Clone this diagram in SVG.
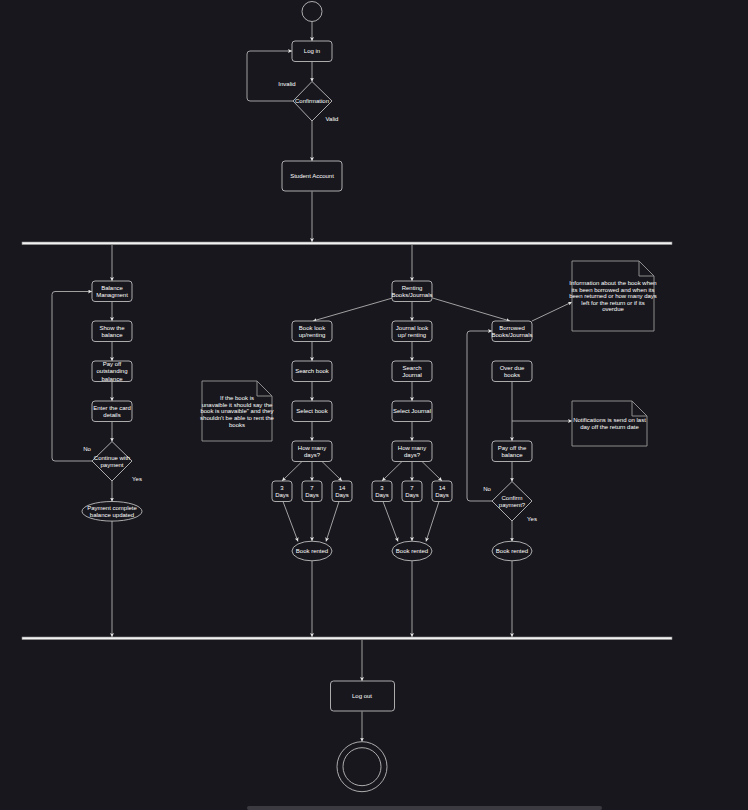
<svg xmlns="http://www.w3.org/2000/svg" width="748" height="810" viewBox="0 0 748 810">
<defs>
<marker id="arr" viewBox="0 0 8 8" refX="8" refY="4" markerWidth="4" markerHeight="4" markerUnits="userSpaceOnUse" orient="auto">
<path d="M0,0 L8,4 L0,8 L2,4 z" fill="#e8e8e8"/>
</marker>
<style>
.n{fill:#18171d;stroke:#bdbdbd;stroke-width:0.9}
.note{fill:#18171d;stroke:#8c8c8c;stroke-width:1}
.a{fill:none;stroke:#b0b0b0;stroke-width:0.9;marker-end:url(#arr)}
text{font-family:"Liberation Sans",Arial,Helvetica,sans-serif;font-size:6px;fill:#ffffff;text-anchor:middle}
.bar{fill:#f2f2f2;stroke:#8a8a8a;stroke-width:0.6}
</style>
</defs>
<rect x="0" y="0" width="748" height="810" fill="#18171d"/>
<rect x="247" y="806" width="355" height="4" rx="2" fill="#3b3a40"/>

<g id="connectors">
<line class="a" x1="312" y1="21.5" x2="312" y2="41"/>
<line class="a" x1="312" y1="61.5" x2="312" y2="81.5"/>
<path class="a" d="M293,101 H250 Q247,101 247,98 V54 Q247,51 250,51 H292"/>
<line class="a" x1="312" y1="121" x2="312" y2="161"/>
<line class="a" x1="312" y1="191.5" x2="312" y2="242"/>
<line class="a" x1="112" y1="245" x2="112" y2="281"/>
<line class="a" x1="412" y1="245" x2="412" y2="281"/>
<line class="a" x1="112" y1="301.5" x2="112" y2="321"/>
<line class="a" x1="112" y1="341.5" x2="112" y2="361"/>
<line class="a" x1="112" y1="381.5" x2="112" y2="401"/>
<line class="a" x1="112" y1="421.5" x2="112" y2="441.5"/>
<path class="a" d="M92,461 H55 Q52,461 52,458 V294.5 Q52,291.5 55,291.5 H92"/>
<line class="a" x1="112" y1="481" x2="112" y2="501.5"/>
<line class="a" x1="112" y1="521" x2="112" y2="637"/>
<line class="a" x1="392.5" y1="298" x2="313" y2="321"/>
<line class="a" x1="412" y1="301.5" x2="412" y2="321"/>
<line class="a" x1="432.5" y1="298" x2="510" y2="321"/>
<line class="a" x1="312" y1="341.5" x2="312" y2="361"/>
<line class="a" x1="312" y1="381.5" x2="312" y2="401"/>
<line class="a" x1="312" y1="421.5" x2="312" y2="441"/>
<line class="a" x1="412" y1="341.5" x2="412" y2="361"/>
<line class="a" x1="412" y1="381.5" x2="412" y2="401"/>
<line class="a" x1="412" y1="421.5" x2="412" y2="441"/>
<line class="a" x1="302" y1="461.5" x2="282" y2="481"/>
<line class="a" x1="312" y1="461.5" x2="312" y2="481"/>
<line class="a" x1="322" y1="461.5" x2="342" y2="481"/>
<line class="a" x1="402" y1="461.5" x2="382" y2="481"/>
<line class="a" x1="412" y1="461.5" x2="412" y2="481"/>
<line class="a" x1="422" y1="461.5" x2="442" y2="481"/>
<line class="a" x1="283" y1="501.5" x2="298" y2="541.5"/>
<line class="a" x1="312" y1="501.5" x2="312" y2="541"/>
<line class="a" x1="339" y1="501.5" x2="326" y2="541.5"/>
<line class="a" x1="383" y1="501.5" x2="398" y2="541.5"/>
<line class="a" x1="412" y1="501.5" x2="412" y2="541"/>
<line class="a" x1="439" y1="501.5" x2="426" y2="541.5"/>
<line class="a" x1="312" y1="561" x2="312" y2="637"/>
<line class="a" x1="412" y1="561" x2="412" y2="637"/>
<line class="a" x1="532" y1="321" x2="572" y2="302"/>
<line class="a" x1="512" y1="381.5" x2="512" y2="441"/>
<line class="a" x1="512" y1="421" x2="572" y2="421"/>
<line class="a" x1="512" y1="461.5" x2="512" y2="481.5"/>
<path class="a" d="M492,501 H470 Q467,501 467,498 V334 Q467,331 470,331 H492"/>
<line class="a" x1="512" y1="521" x2="512" y2="541.5"/>
<line class="a" x1="512" y1="561" x2="512" y2="637"/>
<line class="a" x1="362" y1="640" x2="362" y2="681"/>
<line class="a" x1="362" y1="711.5" x2="362" y2="741.5"/>
</g>

<g id="fork-top"><rect class="bar" x="22" y="242" width="650" height="2.6"/></g>
<g id="fork-bottom"><rect class="bar" x="22" y="637" width="650" height="2.6"/></g>

<g id="start"><circle class="n" cx="312" cy="11.5" r="10"/></g>
<g id="login"><rect class="n" x="292" y="41" width="40" height="20.5" rx="3"/><text x="312" y="53.2">Log in</text></g>
<g id="confirmation"><path class="n" d="M312,81.5 L332,101 L312,121 L293,101 Z"/><text x="312" y="103.2">Confirmation</text></g>
<g id="lbl-invalid"><text x="287" y="86">Invalid</text></g>
<g id="lbl-valid"><text x="332" y="121">Valid</text></g>
<g id="student"><rect class="n" x="282" y="161" width="60" height="30" rx="3"/><text x="312" y="178.2">Student Account</text></g>

<g id="balance"><rect class="n" x="92" y="281" width="40" height="20.5" rx="3"/><text x="112" y="289.6">Balance</text><text x="112" y="296.6">Managment</text></g>
<g id="show"><rect class="n" x="92" y="321" width="40" height="20.5" rx="3"/><text x="112" y="329.6">Show the</text><text x="112" y="336.6">balance</text></g>
<g id="payoff"><rect class="n" x="92" y="361" width="40" height="20.5" rx="3"/><text x="112" y="366.4">Pay off</text><text x="112" y="373.2">outstanding</text><text x="112" y="381">balance</text></g>
<g id="card"><rect class="n" x="92" y="401" width="40" height="20.5" rx="3"/><text x="112" y="409.6">Enter the card</text><text x="112" y="416.6">details</text></g>
<g id="continue"><path class="n" d="M112,441.5 L132,461 L112,481 L92,461 Z"/><text x="112" y="459.6">Continue with</text><text x="112" y="466.6">payment</text></g>
<g id="lbl-no1"><text x="87" y="451">No</text></g>
<g id="lbl-yes1"><text x="137" y="481">Yes</text></g>
<g id="paycomplete"><ellipse class="n" cx="112" cy="511.3" rx="30" ry="9.8"/><text x="112" y="509.6">Payment complete</text><text x="112" y="516.6">balance updated</text></g>

<g id="renting"><rect class="n" x="392" y="281" width="40" height="20.5" rx="3"/><text x="412" y="289.6">Renting</text><text x="412" y="296.6">Books/Journals</text></g>
<g id="booklookup"><rect class="n" x="292" y="321" width="40" height="20.5" rx="3"/><text x="312" y="329.6">Book look</text><text x="312" y="336.6">up/renting</text></g>
<g id="journallookup"><rect class="n" x="392" y="321" width="40" height="20.5" rx="3"/><text x="412" y="329.6">Journal look</text><text x="412" y="336.6">up/ renting</text></g>
<g id="searchbook"><rect class="n" x="292" y="361" width="40" height="20.5" rx="3"/><text x="312" y="373.2">Search book</text></g>
<g id="searchjournal"><rect class="n" x="392" y="361" width="40" height="20.5" rx="3"/><text x="412" y="369.6">Search</text><text x="412" y="376.6">Journal</text></g>
<g id="selectbook"><rect class="n" x="292" y="401" width="40" height="20.5" rx="3"/><text x="312" y="413.2">Select book</text></g>
<g id="selectjournal"><rect class="n" x="392" y="401" width="40" height="20.5" rx="3"/><text x="412" y="413.2">Select Journal</text></g>
<g id="days1"><rect class="n" x="292" y="441" width="40" height="20.5" rx="3"/><text x="312" y="449.6">How many</text><text x="312" y="456.6">days?</text></g>
<g id="days2"><rect class="n" x="392" y="441" width="40" height="20.5" rx="3"/><text x="412" y="449.6">How many</text><text x="412" y="456.6">days?</text></g>
<g id="d3a"><rect class="n" x="272" y="481" width="20" height="20.5" rx="3"/><text x="282" y="489.6">3</text><text x="282" y="496.6">Days</text></g>
<g id="d7a"><rect class="n" x="302" y="481" width="20" height="20.5" rx="3"/><text x="312" y="489.6">7</text><text x="312" y="496.6">Days</text></g>
<g id="d14a"><rect class="n" x="332" y="481" width="20" height="20.5" rx="3"/><text x="342" y="489.6">14</text><text x="342" y="496.6">Days</text></g>
<g id="d3b"><rect class="n" x="372" y="481" width="20" height="20.5" rx="3"/><text x="382" y="489.6">3</text><text x="382" y="496.6">Days</text></g>
<g id="d7b"><rect class="n" x="402" y="481" width="20" height="20.5" rx="3"/><text x="412" y="489.6">7</text><text x="412" y="496.6">Days</text></g>
<g id="d14b"><rect class="n" x="432" y="481" width="20" height="20.5" rx="3"/><text x="442" y="489.6">14</text><text x="442" y="496.6">Days</text></g>
<g id="rented1"><ellipse class="n" cx="312" cy="551" rx="20" ry="9.8"/><text x="312" y="553.2">Book rented</text></g>
<g id="rented2"><ellipse class="n" cx="412" cy="551" rx="20" ry="9.8"/><text x="412" y="553.2">Book rented</text></g>

<g id="note-unavailable"><path class="note" d="M202,381 H257 L272,396 V441 H202 Z M257,381 V396 H272"/>
<text x="237" y="399.8">If the book is</text><text x="237" y="406.6">unavaible it should say the</text><text x="237" y="413.2">book is unavaible" and they</text><text x="237" y="420">shouldn't be able to rent the</text><text x="237" y="426.6">books</text></g>

<g id="borrowed"><rect class="n" x="492" y="321" width="40" height="20.5" rx="3"/><text x="512" y="329.6">Borrowed</text><text x="512" y="336.6">Books/Journals</text></g>
<g id="note-info"><path class="note" d="M572,261 H639 L654,276 V331 H572 Z M639,261 V276 H654"/>
<text x="613" y="285.2">Information about the book when</text><text x="613" y="291.8">its been borrowed and when its</text><text x="613" y="298.4">been returned or how many days</text><text x="613" y="305">left for the  return or if its</text><text x="613" y="311.4">overdue</text></g>
<g id="overdue"><rect class="n" x="492" y="361" width="40" height="20.5" rx="3"/><text x="512" y="369.6">Over due</text><text x="512" y="376.6">books</text></g>
<g id="note-notif"><path class="note" d="M572,401 H632 L647,416 V446 H572 Z M632,401 V416 H647"/>
<text x="609.5" y="421.8">Notifications is send on last</text><text x="609.5" y="428.8">day off the return date</text></g>
<g id="payoffbal"><rect class="n" x="492" y="441" width="40" height="20.5" rx="3"/><text x="512" y="449.6">Pay off the</text><text x="512" y="456.6">balance</text></g>
<g id="confirmpay"><path class="n" d="M512,481.5 L532,501 L512,521 L492,501 Z"/><text x="512" y="499.6">Confirm</text><text x="512" y="506.6">payment?</text></g>
<g id="lbl-no2"><text x="487" y="491">No</text></g>
<g id="lbl-yes2"><text x="532" y="521">Yes</text></g>
<g id="rented3"><ellipse class="n" cx="512" cy="551" rx="20" ry="9.8"/><text x="512" y="553.2">Book rented</text></g>

<g id="logout"><rect class="n" x="330.5" y="681" width="64" height="30" rx="3"/><text x="362" y="698.2">Log out</text></g>
<g id="end"><circle class="n" cx="362" cy="766.7" r="25"/><circle class="n" cx="362" cy="766.7" r="19"/></g>
</svg>
